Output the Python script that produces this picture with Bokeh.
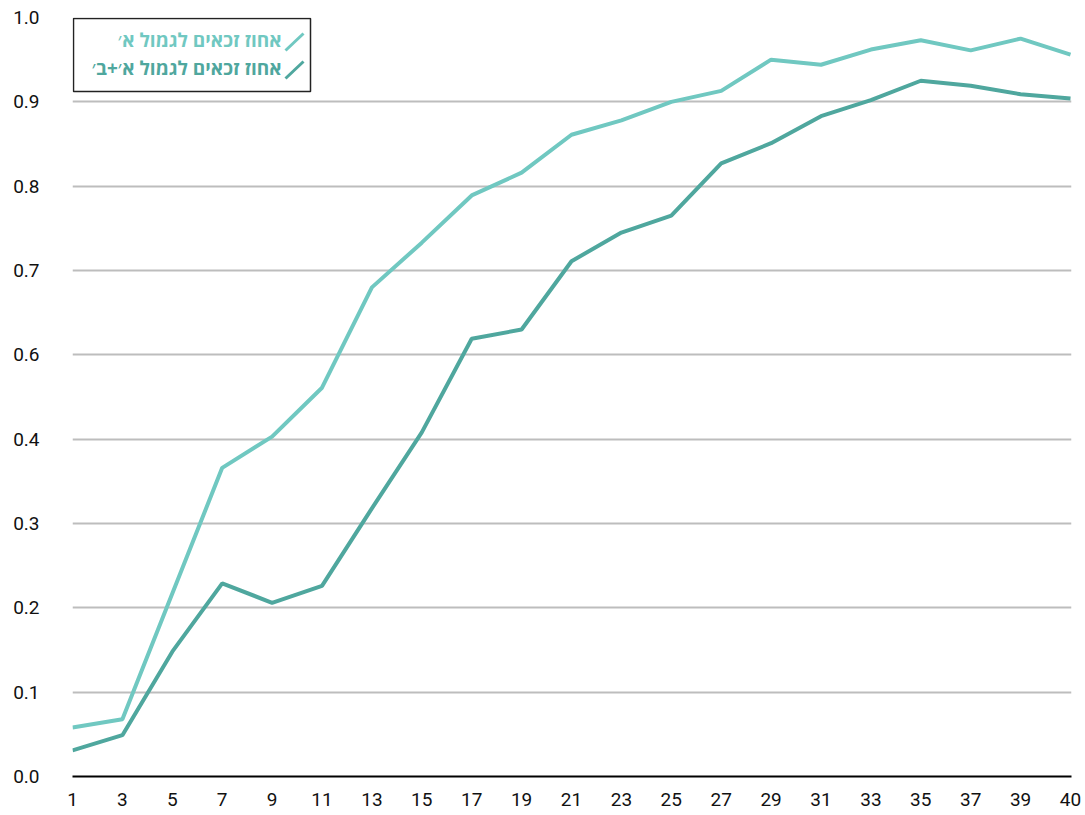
from bokeh.plotting import figure
from bokeh.models import FixedTicker, BoxAnnotation, Range1d
from bokeh.core.properties import value
from bokeh.embed import file_html
from bokeh.resources import INLINE

# x categories (age / index) - equally spaced categories on the chart
x_vals = [1, 3, 5, 7, 9, 11, 13, 15, 17, 19, 21, 23, 25, 27, 29, 31, 33, 35, 37, 39, 40]
# values in axis-position units (gridlines every 0.1; labels below as printed on the chart)
series_a = [0.058, 0.068, 0.217, 0.366, 0.403, 0.461, 0.580, 0.633, 0.689, 0.716, 0.761,
            0.778, 0.800, 0.813, 0.850, 0.844, 0.862, 0.873, 0.861, 0.875, 0.856]
series_ab = [0.031, 0.049, 0.148, 0.229, 0.206, 0.226, 0.318, 0.408, 0.519, 0.530, 0.611,
             0.645, 0.665, 0.727, 0.751, 0.783, 0.802, 0.825, 0.819, 0.809, 0.804]
y_tick_labels = ["0.0", "0.1", "0.2", "0.3", "0.4", "0.6", "0.7", "0.8", "0.9", "1.0"]
x_tick_labels = [str(v) for v in x_vals]
name_a = "אחוז זכאים לגמול א׳"
name_ab = "אחוז זכאים לגמול א׳+ב׳"

c_a = "#70c8c1"
c_ab = "#4fa79e"
TICK_FONT = "Roboto"
LEG_FONT = "Open Sans"

W, H = 1085, 815
FL, FR, FT, FB = 72, 1071, 17, 776   # frame edges (px)

x_idx = list(range(len(x_vals)))

p = figure(width=W, height=H, output_backend="svg", toolbar_location=None,
           x_range=Range1d(0, len(x_vals) - 1 + 0.02), y_range=Range1d(0, 0.9),
           min_border_left=FL, min_border_right=W - FR, min_border_top=FT, min_border_bottom=H - FB)
p.outline_line_color = None

y_ticks = [i * 0.1 for i in range(len(y_tick_labels))]
p.yaxis.ticker = FixedTicker(ticks=y_ticks)
p.yaxis.major_label_overrides = {t: l for t, l in zip(y_ticks, y_tick_labels)}
p.yaxis.axis_line_color = None
p.yaxis.major_tick_line_color = None
p.yaxis.minor_tick_line_color = None
p.yaxis.major_tick_out = 0
p.yaxis.minor_tick_out = 0
p.yaxis.major_label_standoff = 33
p.yaxis.major_label_text_font = TICK_FONT
p.yaxis.major_label_text_font_size = "19px"
p.yaxis.major_label_text_color = "#111111"

p.xaxis.ticker = FixedTicker(ticks=x_idx)
p.xaxis.major_label_overrides = {i: l for i, l in zip(x_idx, x_tick_labels)}
p.xaxis.axis_line_color = "black"
p.xaxis.axis_line_width = 2
p.xaxis.major_tick_line_color = None
p.xaxis.minor_tick_line_color = None
p.xaxis.major_tick_out = 0
p.xaxis.minor_tick_out = 0
p.xaxis.major_label_standoff = 16
p.xaxis.major_label_text_font = TICK_FONT
p.xaxis.major_label_text_font_size = "19px"
p.xaxis.major_label_text_color = "#111111"

p.xgrid.grid_line_color = None
p.ygrid.grid_line_color = "#bdbdbd"
p.ygrid.grid_line_width = 2

p.line(x_idx, series_a, line_color=c_a, line_width=4)
p.line(x_idx, series_ab, line_color=c_ab, line_width=4)

# custom legend (glyph on the right of the Hebrew label)
upp_x = (len(x_vals) - 1 + 0.02) / (FR - FL)
upp_y = 0.9 / (FB - FT)
def dx(px):
    return (px - FL) * upp_x
def dy(py):
    return (FB - py) * upp_y

box = BoxAnnotation(left=dx(73), right=dx(310), top=dy(18), bottom=dy(91), level="underlay",
                    fill_color="white", fill_alpha=1.0, line_color="#222222", line_alpha=1.0,
                    line_width=1.5)
p.add_layout(box)
p.segment(x0=[dx(285), dx(285)], y0=[dy(50), dy(78)], x1=[dx(303), dx(303)], y1=[dy(33), dy(61)],
          line_color=[c_a, c_ab], line_width=3)
p.text(x=[dx(281), dx(281)], y=[dy(39), dy(67.5)], text=[name_a, name_ab],
       text_color=[c_a, c_ab], text_align="right", text_baseline="middle",
       text_font=value(LEG_FONT), text_font_size="19px", text_font_style="bold")

open("out.html", "w").write(file_html(p, INLINE))
